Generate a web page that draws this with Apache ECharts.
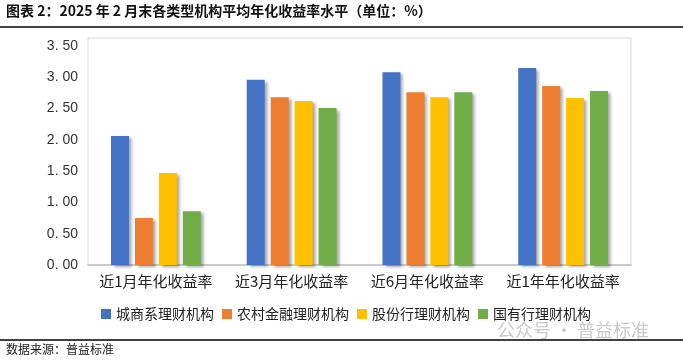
<!DOCTYPE html>
<html><head><meta charset="utf-8">
<script src="https://cdn.jsdelivr.net/npm/echarts@6/dist/echarts.min.js"></script>
<style>html,body{margin:0;padding:0;background:#fff}#c{width:683px;height:360px}</style>
</head><body><div id="c"></div>
<script>
const categories = ['近1月年化收益率','近3月年化收益率','近6月年化收益率','近1年年化收益率'];
const seriesNames = ['城商系理财机构','农村金融理财机构','股份行理财机构','国有行理财机构'];
const chengshang = [2.06, 2.96, 3.08, 3.15];
const nongcun = [0.75, 2.68, 2.76, 2.86];
const gufen = [1.47, 2.62, 2.68, 2.67];
const guoyou = [0.86, 2.51, 2.76, 2.78];
const yTicks = [0, 0.5, 1, 1.5, 2, 2.5, 3, 3.5];
const colors = ['#4472C4','#ED7D31','#FFC000','#70AD47'];
const values = [chengshang, nongcun, gufen, guoyou];
const cjk = '"Noto Sans CJK SC", sans-serif';
const chart = echarts.init(document.getElementById('c'));
chart.setOption({
  animation: false,
  textStyle: {fontFamily: cjk},
  graphic: [
    {type:'text', left: 6, top: 4, style:{text:'图表 2：2025 年 2 月末各类型机构平均年化收益率水平（单位：%）', font:'bold 14px "Noto Sans CJK SC"', fill:'#111'}},
    {type:'line', shape:{x1:0,y1:27,x2:683,y2:27}, style:{stroke:'#000', lineWidth:1.5}},
    {type:'rect', shape:{x:88,y:38,width:543,height:227}, style:{fill:'none', stroke:'#d9d9d9', lineWidth:1}, z:-1},
    {type:'line', shape:{x1:0,y1:340,x2:683,y2:340}, style:{stroke:'#000', lineWidth:1.5}},
    {type:'text', left: 6, top: 343, style:{text:'数据来源：普益标准', font:'12px "Noto Sans CJK SC"', fill:'#222'}},
    {type:'text', left: 497, top: 321, z: -2, style:{text:'公众号 · 普益标准', font:'18px "Noto Sans CJK SC"', fill:'rgba(150,150,150,0.5)'}}
  ],
  legend: {
    data: seriesNames, bottom: 34, left: 96, itemWidth: 10, itemHeight: 10, itemGap: 8,
    icon: 'rect', textStyle: {fontSize: 14, color: '#222'}
  },
  grid: {left: 88, right: 52, top: 46, bottom: 95},
  xAxis: {
    type: 'category', data: categories,
    axisLine: {lineStyle: {color: '#bfbfbf', width: 1.5}},
    axisTick: {show: false},
    axisLabel: {fontSize: 15, color: '#222', margin: 9, interval: 0}
  },
  yAxis: {
    type: 'value', min: 0, max: 3.5, interval: 0.5,
    axisLine: {show: false}, axisTick: {show: false}, splitLine: {show: false},
    axisLabel: {fontSize: 14, color: '#333', margin: 10, fontFamily: 'Arial, sans-serif',
      formatter: v => v.toFixed(2).replace('.', '. ')}
  },
  series: values.map((d, i) => ({
    name: seriesNames[i], type: 'bar', data: d, barWidth: 18, barGap: '33%',
    itemStyle: {color: colors[i], shadowColor: 'rgba(0,0,0,0.35)', shadowBlur: 3, shadowOffsetX: 3, shadowOffsetY: 2}
  }))
});
</script></body></html>
